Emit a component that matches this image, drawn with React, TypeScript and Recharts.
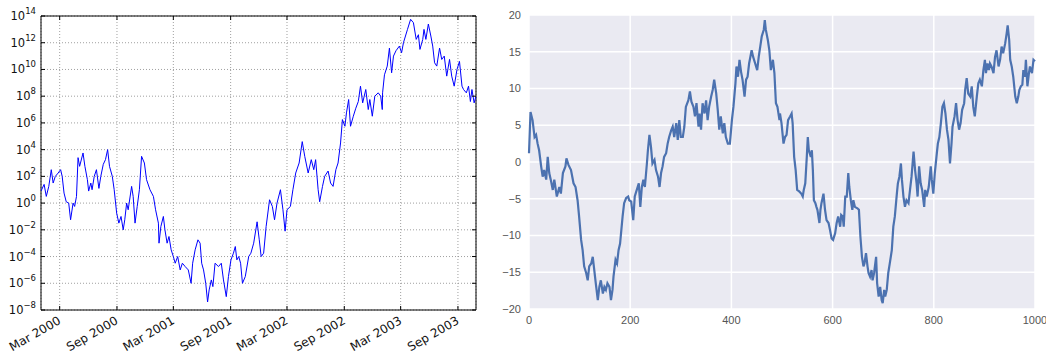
import { CartesianGrid, Line, LineChart, ReferenceArea, XAxis, YAxis } from 'recharts'

// Left panel: log-scale walk, sampled by day offset from 1 Jan 2000
const walkDays = [
  0, 10, 17, 25, 33, 39, 46, 55, 63, 68, 74, 81, 89, 95, 103, 108, 114, 119, 124, 135,
  141, 149, 153, 160, 164, 171, 178, 186, 192, 200, 207, 214, 220, 229, 235, 243, 250, 257, 264, 269,
  275, 280, 291, 296, 302, 309, 316, 323, 332, 339, 350, 361, 368, 377, 379, 385, 393, 398, 405, 411,
  418, 425, 431, 439, 447, 454, 463, 473, 482, 487, 495, 504, 511, 516, 522, 529, 535, 540, 547, 552,
  559, 570, 579, 586, 595, 602, 610, 618, 624, 629, 635, 641, 647, 656, 667, 674, 683, 694, 701,
  707, 715, 723, 734, 743, 750, 758, 769, 777, 784, 790, 801, 809, 818, 829, 839, 847, 858, 868, 876,
  882, 890, 895, 904, 911, 922, 930, 938, 947, 954, 962, 968, 976, 981, 988, 994, 1003, 1011, 1019, 1026,
  1033, 1043, 1051, 1056, 1064, 1072, 1083, 1091, 1096, 1097, 1103, 1112, 1119, 1126, 1132, 1140, 1151, 1158, 1164, 1177,
  1187, 1196, 1205, 1212, 1217, 1226, 1230, 1236, 1244, 1252, 1258, 1264, 1271, 1280, 1287, 1295, 1303, 1312, 1319, 1327,
  1336, 1344, 1352, 1357, 1366, 1373, 1379, 1384, 1391, 1397,
]

// log10 of the walk value at each sampled day
const walkExponents = [
  0.9, 1.4, 0.5, 1.25, 2.5, 1.5, 2.0, 2.25, 2.5, 2.0, 0.75, 0.1, 0.0, -1.25, 0.0, -0.25, 0.5, 3.4, 2.75, 3.75,
  2.75, 1.75, 0.9, 1.5, 1.0, 2.0, 2.5, 1.1, 2.0, 2.9, 3.25, 4.0, 2.75, 2.0, 1.0, -0.75, -1.5, -1.0, -2.0, -1.25,
  0.0, -0.5, 1.25, 0.5, -1.5, -0.25, 1.0, 3.5, 3.0, 1.75, 1.0, 0.5, -0.5, -1.5, -3.0, -1.75, -1.0, -2.0, -3.0, -2.5,
  -3.5, -4.0, -4.5, -4.0, -5.0, -4.5, -4.75, -5.0, -6.0, -4.5, -3.5, -2.75, -3.0, -4.5, -5.0, -6.0, -7.4, -6.5, -5.75, -6.25,
  -4.5, -4.75, -4.5, -5.75, -7.0, -5.5, -4.25, -3.75, -3.25, -4.25, -4.0, -4.5, -6.0, -5.5, -4.0, -3.75, -3.0, -1.4, -2.75,
  -4.0, -3.75, -1.75, 0.25, -0.25, -1.25, 0.0, 1.0, -0.5, -2.1, -0.5, -0.25, 1.0, 2.25, 3.0, 4.6, 3.5, 2.25, 3.25, 2.5,
  3.25, 1.0, 0.1, 1.25, 2.0, 2.4, 1.5, 1.25, 2.5, 3.0, 4.5, 6.25, 5.75, 6.75, 7.75, 5.75, 6.5, 7.1, 7.6, 8.75,
  7.5, 8.5, 7.0, 7.75, 6.5, 8.0, 8.25, 8.0, 7.0, 8.25, 9.6, 10.25, 11.6, 9.75, 11.0, 11.4, 11.75, 11.25, 12.0, 13.0,
  13.75, 13.5, 12.25, 12.6, 11.5, 12.25, 13.0, 12.25, 13.4, 12.5, 11.75, 10.5, 10.25, 11.6, 10.75, 11.0, 9.5, 10.75, 9.5, 8.75,
  10.0, 10.6, 8.75, 8.5, 8.25, 8.75, 7.6, 8.5, 7.5, 8.0,
]

const dateTickLabels = ['Mar 2000', 'Sep 2000', 'Mar 2001', 'Sep 2001', 'Mar 2002', 'Sep 2002', 'Mar 2003', 'Sep 2003']
const powerTicks = [-8, -6, -4, -2, 0, 2, 4, 6, 8, 10, 12, 14]

// Right panel: 1000-step walk
const stepIndex = [
  0, 3, 7, 11, 14, 17, 20, 24, 27, 30, 34, 37, 40, 43, 47, 50, 55, 60, 63, 67,
  72, 74, 78, 83, 88, 92, 96, 99, 103, 106, 109, 113, 116, 119, 123, 126, 129, 132, 136, 139,
  142, 146, 149, 152, 155, 159, 162, 165, 167, 171, 174, 177, 180, 185, 188, 192, 196, 198, 202, 206,
  209, 213, 217, 220, 223, 226, 229, 233, 235, 238, 241, 244, 248, 251, 255, 258, 261, 264, 267, 271,
  274, 277, 281, 284, 287, 291, 294, 297, 300, 304, 307, 310, 315, 318, 321, 325, 328, 331, 335, 337,
  340, 343, 347, 350, 353, 356, 360, 363, 366, 370, 373, 376, 379, 383, 386, 389, 393, 397, 401, 404,
  408, 410, 413, 416, 419, 422, 426, 429, 432, 435, 440, 443, 447, 451, 454, 457, 460, 464, 466, 468,
  472, 475, 478, 482, 485, 488, 491, 495,
  496, 499, 503, 506, 509, 512, 516, 519, 521, 524, 527, 530, 534, 538, 541, 543, 546, 549, 551, 553,
  557, 559, 561, 563, 566, 568, 570, 574, 576, 578, 582, 585, 588, 592, 595, 598, 601, 605, 608, 611,
  615, 617, 620, 622, 625, 628, 631, 633, 636, 639, 641, 644, 649, 652, 655, 658, 661, 663, 666, 669,
  671, 674, 677, 679, 682, 686, 688, 691, 694, 697, 699, 702, 704, 707, 710, 713, 717, 720, 723, 727,
  729, 732, 735, 737, 740, 743, 746, 750, 753, 756, 760, 763, 766, 768, 771, 774, 777, 781, 783, 786,
  790, 794, 796, 799, 802, 806, 808, 811, 814, 817, 820, 823, 826, 829, 832, 835, 837, 841, 844, 847,
  850, 853, 856, 860, 862, 865, 868, 872, 875, 878, 881, 885, 888, 891, 895, 898, 901, 903, 906, 909,
  911, 914, 918, 921, 924, 928, 931, 934, 937, 941, 944, 946, 949, 951, 954, 957, 961, 964, 967, 969,
  972, 975, 977, 980, 982, 985, 988, 990, 994, 997, 1000,
]

const stepValues = [
  1.2, 6.8, 5.7, 3.4, 3.7, 2.5, 1.6, -0.6, -2.0, -1.1, -2.4, 0.7, -1.5, -2.4, -3.8, -2.4, -4.7, -3.4, -4.3, -1.5,
  -0.6, 0.5, -0.4, -1.1, -2.9, -3.4, -5.2, -7.4, -10.6, -12.0, -14.2, -15.1, -16.1, -14.2, -13.8, -12.9, -14.7, -16.5, -18.8, -17.0,
  -16.1, -17.9, -17.0, -17.4, -16.5, -17.0, -18.8, -17.4, -15.6, -13.3, -13.8, -12.0, -11.1, -7.4, -5.6, -4.9, -4.7, -5.2, -5.4, -7.9,
  -4.7, -3.8, -2.9, -6.1, -3.4, -2.4, -3.4, -0.2, 1.6, 3.7, 2.1, -0.2, 0.3, -1.1, -2.0, -3.4, -1.5, -0.6, 0.7, 1.2,
  2.5, 3.4, 4.3, 4.8, 3.4, 5.3, 3.0, 5.7, 3.4, 3.4, 4.8, 7.5, 8.4, 9.6, 8.2, 7.5, 6.2, 8.0, 4.8, 6.6,
  4.4, 8.0, 6.6, 8.4, 5.7, 7.5, 8.9, 9.8, 11.2, 9.3, 7.1, 4.4, 6.2, 3.9, 5.3, 3.4, 2.5, 2.5, 5.7, 7.5,
  10.7, 13.0, 11.6, 13.9, 12.3, 11.2, 8.9, 11.2, 11.6, 13.4, 15.2, 14.3, 13.4, 12.5, 14.3, 15.7, 17.1, 18.0, 19.3, 18.0,
  16.6, 15.2, 12.5, 13.9, 12.1, 8.0, 7.5, 5.7,
  6.6, 5.3, 2.5, 3.4, 3.7, 5.7, 6.2, 6.6, 5.3, 0.7, -1.1, -3.8, -4.0, -4.3, -4.7, -3.8, -2.9, 0.7, 3.4, 1.6,
  0.7, 1.6, -1.1, -5.2, -5.6, -6.1, -6.5, -8.3, -6.5, -5.6, -4.3, -6.5, -7.9, -8.3, -9.3, -10.4, -10.6, -9.7, -8.3, -7.4,
  -8.8, -7.2, -7.4, -8.8, -4.7, -4.7, -1.5, -3.4, -5.2, -6.5, -5.2, -6.1, -6.3, -6.5, -10.2, -12.9, -14.2, -13.8, -12.4, -14.2,
  -15.1, -15.6, -14.7, -16.1, -15.1, -12.9, -16.5, -18.3, -17.0, -18.8, -19.2, -17.4, -18.3, -17.4, -15.1, -13.8, -12.0, -8.8, -7.4, -4.3,
  -2.9, -2.0, -0.2, -2.4, -4.7, -6.1, -5.2, -5.6, -3.8, -2.0, 1.4, -1.1, -2.9, -4.7, -0.6, -2.9, -3.8, -6.1, -3.8, -4.7,
  -3.4, -0.6, -2.4, -4.3, -1.5, 1.2, 2.5, 3.4, 5.3, 7.5, 8.0, 6.6, 4.4, 3.0, -0.2, 2.5, 4.8, 6.2, 8.0, 5.7,
  4.4, 5.3, 7.1, 8.0, 9.8, 11.4, 9.3, 8.9, 10.3, 7.5, 6.2, 8.9, 10.7, 11.2, 10.3, 12.5, 13.9, 12.1, 13.4, 12.5,
  13.4, 13.0, 12.1, 14.3, 15.2, 13.0, 13.9, 15.7, 14.8, 16.1, 17.5, 18.6, 16.6, 13.9, 13.0, 11.6, 8.9, 8.0, 8.9, 9.8,
  10.3, 10.5, 12.5, 11.6, 13.9, 10.3, 12.1, 13.0, 12.1, 13.9, 13.7,
]

const stepXTicks = [0, 200, 400, 600, 800, 1000]
const stepYTicks = [-20, -15, -10, -5, 0, 5, 10, 15, 20]

const MONTHS = ['Jan', 'Feb', 'Mar', 'Apr', 'May', 'Jun', 'Jul', 'Aug', 'Sep', 'Oct', 'Nov', 'Dec']
const DAY = 86400000
const START = Date.UTC(2000, 0, 1)
const END = START + walkDays[walkDays.length - 1] * DAY

const logRows = walkDays.map((d, i) => ({ t: START + d * DAY, v: 10 ** walkExponents[i] }))
const dateTicks = dateTickLabels.map((s) => {
  const [m, y] = s.split(' ')
  return Date.UTC(Number(y), MONTHS.indexOf(m), 1)
})
const tickLabelFor = (t: number) => {
  const d = new Date(t)
  return `${MONTHS[d.getUTCMonth()]} ${d.getUTCFullYear()}`
}

const stepRows = stepIndex.map((x, i) => ({ x, v: stepValues[i] }))

const LEFT_W = 435
const LEFT_H = 294
const MPL_FONT = 'DejaVu Sans, sans-serif'
const minus = (n: number) => (n < 0 ? `\u2212${Math.abs(n)}` : String(n))

function PowerTick({ x, y, payload }: any) {
  const exp = Math.round(Math.log10(payload.value))
  return (
    <g>
      <line x1={x} x2={x + 4} y1={y} y2={y} stroke="#000" />
      <line x1={x + LEFT_W} x2={x + LEFT_W - 4} y1={y} y2={y} stroke="#000" />
      <text x={x - 5} y={y + 4} textAnchor="end" fontSize={11.5} fill="#111" fontFamily={MPL_FONT}>
        10
        <tspan dy={-6} fontSize={8.5}>
          {minus(exp)}
        </tspan>
      </text>
    </g>
  )
}

function DateTick({ x, y, payload }: any) {
  const ax = x + 2
  const ay = y + 13
  return (
    <g>
      <line x1={x} x2={x} y1={y} y2={y - 4} stroke="#000" />
      <line x1={x} x2={x} y1={y - LEFT_H} y2={y - LEFT_H + 4} stroke="#000" />
      <text x={ax} y={ay} textAnchor="end" fontSize={12} fill="#111" fontFamily={MPL_FONT} transform={`rotate(-30 ${ax} ${ay})`}>
        {tickLabelFor(payload.value)}
      </text>
    </g>
  )
}

export default function App() {
  return (
    <div style={{ position: 'absolute', left: 0, top: 0, width: 1046, height: 354, background: '#fff', overflow: 'hidden' }}>
      <div style={{ position: 'absolute', left: 0, top: 0 }}>
        <LineChart width={480} height={354} data={logRows} margin={{ top: 16, right: 4, bottom: 0, left: 0 }}>
          <CartesianGrid stroke="#888" strokeDasharray="1 2" strokeWidth={0.8} />
          <XAxis
            dataKey="t"
            type="number"
            domain={[START, END]}
            allowDataOverflow
            ticks={dateTicks}
            height={44}
            axisLine={false}
            tickLine={false}
            tickSize={0}
            tickMargin={0}
            tick={<DateTick />}
            interval={0}
          />
          <YAxis
            dataKey="v"
            type="number"
            scale="log"
            domain={[1e-8, 1e14]}
            allowDataOverflow
            ticks={powerTicks.map((p) => 10 ** p)}
            width={41}
            axisLine={false}
            tickLine={false}
            tickSize={0}
            tickMargin={0}
            tick={<PowerTick />}
            interval={0}
          />
          <Line type="linear" dataKey="v" stroke="#0000ff" strokeWidth={1} dot={false} isAnimationActive={false} />
          <ReferenceArea x1={START} x2={END} y1={1e-8} y2={1e14} fill="none" stroke="#000" strokeWidth={1} />
        </LineChart>
      </div>

      <div style={{ position: 'absolute', left: 490, top: 0 }}>
        <LineChart width={556} height={354} data={stepRows} margin={{ top: 15, right: 11, bottom: 0, left: 0 }}>
          <CartesianGrid fill="#eaeaf2" stroke="#ffffff" strokeWidth={1.5} />
          <XAxis
            dataKey="x"
            type="number"
            domain={[0, 1000]}
            ticks={stepXTicks}
            height={45}
            axisLine={false}
            tickLine={false}
            tickSize={0}
            tickMargin={7}
            interval={0}
            tick={{ fontSize: 11, fill: '#555', fontFamily: 'Liberation Sans, Arial, sans-serif' }}
          />
          <YAxis
            dataKey="v"
            type="number"
            domain={[-20, 20]}
            ticks={stepYTicks}
            width={39}
            axisLine={false}
            tickLine={false}
            tickSize={0}
            tickMargin={8}
            interval={0}
            tickFormatter={minus}
            tick={{ fontSize: 11, fill: '#555', fontFamily: 'Liberation Sans, Arial, sans-serif' }}
          />
          <Line type="linear" dataKey="v" stroke="#4c72b0" strokeWidth={2.2} dot={false} isAnimationActive={false} />
        </LineChart>
      </div>
    </div>
  )
}
